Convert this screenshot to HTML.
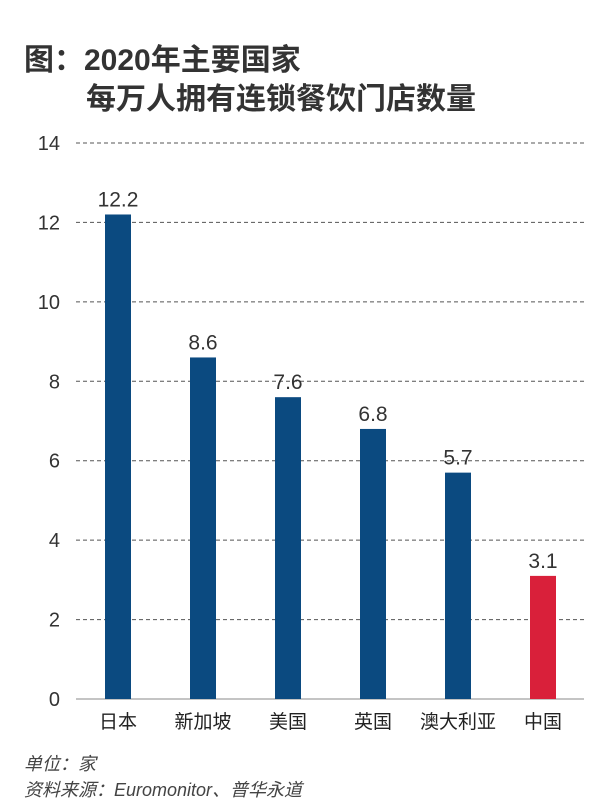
<!DOCTYPE html>
<html><head><meta charset="utf-8"><style>
body{margin:0;background:#fff;}
#c{position:relative;width:604px;height:808px;overflow:hidden;font-family:"Liberation Sans","Noto Sans CJK SC",sans-serif;}
.t{position:absolute;left:24px;font-size:30px;font-weight:bold;color:#333;white-space:nowrap;}
.f{position:absolute;left:24px;font-size:18px;font-style:italic;color:#444;white-space:nowrap;}
</style></head><body>
<div id="c">
<div class="t" style="top:35px">图：2020年主要国家</div>
<div class="t" style="top:74px;left:86px">每万人拥有连锁餐饮门店数量</div>
<svg id="s" width="604" height="808" style="position:absolute;left:0;top:0"></svg>
<div class="f" style="top:750px">单位：家</div>
<div class="f" style="top:776px">资料来源：Euromonitor、普华永道</div>
</div>
<script>
const categories=["日本","新加坡","美国","英国","澳大利亚","中国"];
const values=[12.2,8.6,7.6,6.8,5.7,3.1];
const valueLabels=["12.2","8.6","7.6","6.8","5.7","3.1"];
const ticks=[0,2,4,6,8,10,12,14];
const colors=["#0b4a80","#0b4a80","#0b4a80","#0b4a80","#0b4a80","#d9203a"];
const NS="http://www.w3.org/2000/svg";
const svg=document.getElementById('s');
const y0=699,yTop=143,x0=76,x1=584,first=118,step=85,bw=26;
function y(v){return y0-(v/14)*(y0-yTop);}
function x(i){return first+i*step;}
function mk(t,a,txt){const e=document.createElementNS(NS,t);for(const k in a)e.setAttribute(k,a[k]);if(txt!=null)e.textContent=txt;svg.appendChild(e);return e;}
ticks.forEach(t=>{
  const l=mk('line',{x1:x0,x2:x1,y1:y(t),y2:y(t),stroke:t===0?'#888':'#555','stroke-width':1,'stroke-dasharray':t===0?'':'4,3'});
  
  
  const tx=mk('text',{x:60,y:y(t)+7,'text-anchor':'end','font-size':20,fill:'#333','font-family':'Liberation Sans, sans-serif'},String(t));
  
  
});
values.forEach((v,i)=>{
  const r=mk('rect',{x:x(i)-bw/2,y:y(v),width:bw,height:y0-y(v),fill:colors[i]});
  
  
  const vl=mk('text',{x:x(i),y:y(v)-8,'text-anchor':'middle','font-size':21,fill:'#333','font-family':'Liberation Sans, sans-serif'},valueLabels[i]);
  
  
  const cl=mk('text',{x:x(i),y:728,'text-anchor':'middle','font-size':19,fill:'#222','font-family':'Liberation Sans, Noto Sans CJK SC, sans-serif'},categories[i]);
  
  
});
</script>
</body></html>
